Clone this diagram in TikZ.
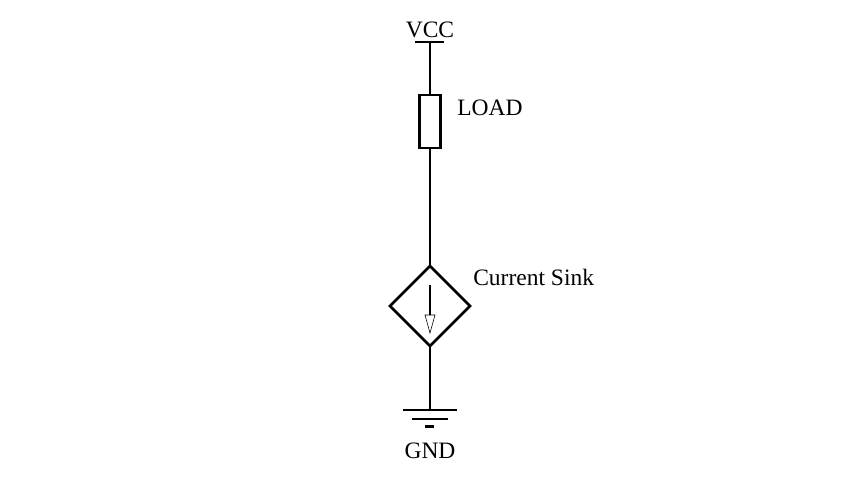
\documentclass[tikz,border=0pt]{standalone}
\usepackage{fontspec}
\setmainfont{Liberation Serif}
\begin{document}
\begin{tikzpicture}[x=1pt,y=-1pt,line width=2.6pt,
  lbl/.style={font=\fontsize{23.5}{28}\selectfont,inner sep=0pt}]
\useasboundingbox (0,0) rectangle (861,478);
\node[lbl] (vcc) at (430,30) {VCC};
\coordinate (vtop) at (430,42);
\draw (415,42) -- (444,42);
\node[draw,minimum width=21pt,minimum height=53pt,inner sep=0pt,line width=2.6pt] (load) at (430,121.5) {};
\node[lbl,anchor=west] (ltxt) at (456,108) {LOAD};
\coordinate (dt) at (430,266);
\coordinate (db) at (430,346);
\draw (430,266) -- (470,306) -- (430,346) -- (390,306) -- cycle;
\node[lbl,anchor=west] (stxt) at (472,277) {Current Sink};
\draw (430,285) -- (430,315);
\draw[line width=0.6pt] (425,315) -- (435,315) -- (430,333) -- cycle;
\coordinate (g) at (430,410);
\draw (vtop) -- (load.north);
\draw (load.south) -- (dt);
\draw (db) -- (g);
\draw (403,410) -- (457,410);
\draw (412,419) -- (448,419);
\draw (425,426.5) -- (434,426.5);
\node[lbl] (gnd) at (430,451) {GND};
\end{tikzpicture}
\end{document}
